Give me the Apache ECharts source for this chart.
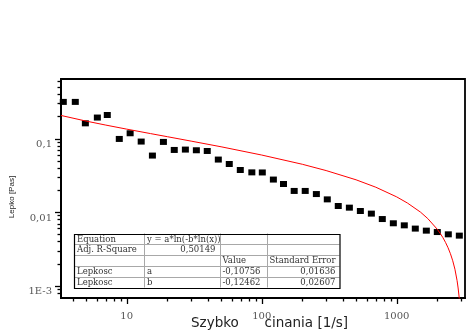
<!DOCTYPE html>
<html>
<head>
<meta charset="utf-8">
<script src="https://cdn.jsdelivr.net/npm/echarts@6/dist/echarts.min.js"></script>
<style>
html,body{margin:0;padding:0;background:#fff;}
#chart{width:467px;height:330px;}
</style>
</head>
<body>
<div id="chart"></div>
<script>
// ---- data ----
const shearRate = [3.39, 4.16, 4.94, 6.06, 7.18, 8.81, 10.6, 12.8, 15.5, 18.7, 22.5, 27.2, 32.8, 39.5, 47.7, 57.5, 69.4, 84.5, 101, 122, 145, 174, 210, 254, 306, 369, 446, 538, 649, 782, 944, 1138, 1373, 1657, 1998, 2411, 2909];
const viscosity = [0.315, 0.315, 0.161, 0.193, 0.209, 0.0988, 0.118, 0.091, 0.0587, 0.090, 0.070, 0.0708, 0.0693, 0.0678, 0.0518, 0.0451, 0.0374, 0.0347, 0.0346, 0.0277, 0.0241, 0.0194, 0.0194, 0.0176, 0.0149, 0.0121, 0.0115, 0.01035, 0.00954, 0.00805, 0.00705, 0.00661, 0.00597, 0.00560, 0.00536, 0.00499, 0.00479];
const fitX = [3.26, 5, 7, 10, 15, 20, 30, 50, 100, 200, 300, 500, 700, 1000, 1200, 1500, 1700, 2000, 2100, 2200, 2300, 2400, 2500, 2600, 2700, 2800, 2850, 2900, 2950];
const fitY = [0.206, 0.1728, 0.1524, 0.1343, 0.1168, 0.1060, 0.0923, 0.0773, 0.0597, 0.0447, 0.0367, 0.0275, 0.0218, 0.0161, 0.0133, 0.0100, 0.00816, 0.00583, 0.00514, 0.00449, 0.00387, 0.00328, 0.00272, 0.00218, 0.00167, 0.00117, 0.00093, 0.00070, 0.00047];

const xMin = 3.26, xMax = 3205;
const yMin = 0.00068, yMax = 0.645;

const xTickValues = [10, 100, 1000];
const xTickLabels = ['10', '100', '1000'];
const xMinorTicks = [4, 5, 6, 7, 8, 9, 20, 30, 40, 50, 60, 70, 80, 90, 200, 300, 400, 500, 600, 700, 800, 900, 2000, 3000];
const yTickValues = [0.001, 0.01, 0.1];
const yTickLabels = ['1E-3', '0,01', '0,1'];
const yMinorTicks = [0.0008, 0.0009, 0.002, 0.003, 0.004, 0.005, 0.006, 0.007, 0.008, 0.009, 0.02, 0.03, 0.04, 0.05, 0.06, 0.07, 0.08, 0.09, 0.2, 0.3, 0.4, 0.5, 0.6];

const xTitle = 'Szybko      cinania [1/s]';
const yTitle = 'Lepko [Pas]';

const tableRows = [
  ['Equation', 'y = a*ln(-b*ln(x))', '', ''],
  ['Adj. R-Square', '0,50149', '', ''],
  ['', '', 'Value', 'Standard Error'],
  ['Lepkosc', 'a', '-0,10756', '0,01636'],
  ['Lepkosc', 'b', '-0,12462', '0,02607']
];
const tableRightAligned = [[false, false, false, true], [false, true, false, true], [false, false, false, true], [false, false, false, true], [false, false, false, true]];

// ---- helpers ----
function matchLabel(values, labels, v) {
  for (let i = 0; i < values.length; i++) {
    if (Math.abs(Math.log10(values[i]) - Math.log10(v)) < 1e-6) return labels[i];
  }
  return '';
}

const chart = echarts.init(document.getElementById('chart'), null, {renderer: 'canvas'});

// table graphic
const colEdges = [74, 144, 219.5, 266.5, 339.5];
const tTop = 233.5, rowH = 10.8;
const tBottom = tTop + rowH * tableRows.length;
const tableEls = [];
tableEls.push({type: 'rect', shape: {x: colEdges[0], y: tTop, width: colEdges[4] - colEdges[0], height: tBottom - tTop}, style: {fill: '#fff'}});
for (let r = 1; r < tableRows.length; r++) {
  const y = Math.round(tTop + r * rowH) + 0.5;
  tableEls.push({type: 'line', shape: {x1: colEdges[0], y1: y, x2: colEdges[4], y2: y}, style: {stroke: '#a8a8a8', lineWidth: 1}});
}
for (let c = 1; c < colEdges.length - 1; c++) {
  const x = Math.round(colEdges[c]) + 0.5;
  tableEls.push({type: 'line', shape: {x1: x, y1: tTop, x2: x, y2: tBottom}, style: {stroke: '#a8a8a8', lineWidth: 1}});
}
tableEls.push({type: 'rect', shape: {x: colEdges[0] + 0.5, y: Math.round(tTop) + 0.5, width: colEdges[4] - colEdges[0], height: Math.round(tBottom - tTop)}, style: {fill: 'none', stroke: '#000', lineWidth: 1.2}});
tableRows.forEach((row, r) => {
  row.forEach((txt, c) => {
    if (!txt) return;
    const right = tableRightAligned[r][c];
    tableEls.push({
      type: 'text',
      style: {
        text: txt,
        x: right ? colEdges[c + 1] - 4 : colEdges[c] + 3,
        y: tTop + r * rowH + rowH / 2 + 0.5,
        align: right ? 'right' : 'left',
        verticalAlign: 'middle',
        fontFamily: 'DejaVu Serif',
        fontSize: 8.5,
        fill: '#333'
      }
    });
  });
});

const option = {
  animation: false,
  backgroundColor: '#fff',
  grid: {left: 61, top: 79, right: 2, bottom: 32, containLabel: false, outerBoundsMode: 'none', show: true, borderColor: '#000', borderWidth: 1.8, backgroundColor: 'transparent'},
  xAxis: {
    type: 'log', logBase: 10, min: xMin, max: xMax,
    axisLine: {show: true, lineStyle: {color: '#000', width: 2}},
    axisTick: {show: false},
    splitLine: {show: false},
    axisLabel: {
      margin: 13, fontFamily: 'DejaVu Serif', fontSize: 10, color: '#555',
      showMinLabel: false, showMaxLabel: false,
      formatter: v => matchLabel(xTickValues, xTickLabels, v)
    }
  },
  yAxis: {
    type: 'log', logBase: 10, min: yMin, max: yMax,
    axisLine: {show: true, lineStyle: {color: '#000', width: 2}},
    axisTick: {show: false},
    splitLine: {show: false},
    axisLabel: {
      margin: 9, fontFamily: 'DejaVu Serif', fontSize: 10, color: '#555',
      showMinLabel: false, showMaxLabel: false,
      verticalAlign: 'top',
      padding: [1, 0, 0, 0],
      formatter: v => matchLabel(yTickValues, yTickLabels, v)
    }
  },
  graphic: [
    {type: 'group', children: tableEls, z: 100},
    {type: 'text', x: 191, y: 323, z: 100,
      style: {text: xTitle, align: 'left', verticalAlign: 'middle', fontFamily: 'DejaVu Sans', fontSize: 13.5, fill: '#222'}},
    {type: 'text', x: 12, y: 197, rotation: Math.PI / 2, z: 100,
      style: {text: yTitle, align: 'center', verticalAlign: 'middle', fontFamily: 'Liberation Sans', fontSize: 8, fill: '#222'}}
  ],
  series: [
    {
      type: 'scatter', name: 'Lepkosc',
      data: shearRate.map((x, i) => [x, viscosity[i]]),
      symbol: 'rect', symbolSize: [7, 6],
      itemStyle: {color: '#000', opacity: 1},
      z: 3
    },
    {
      type: 'line', name: 'fit',
      data: fitX.map((x, i) => [x, fitY[i]]),
      showSymbol: false, symbol: 'none', smooth: false,
      lineStyle: {color: '#ff0000', width: 1},
      z: 4
    },
    {
      type: 'custom', name: 'xticks', clip: false, silent: true,
      data: xTickValues.map(v => [v, yMin, 6]).concat(xMinorTicks.map(v => [v, yMin, 3.5])),
      encode: {x: 0, y: 1},
      renderItem: (params, api) => {
        const p = api.coord([api.value(0), api.value(1)]);
        const len = api.value(2);
        const x = Math.round(p[0]) + 0.5;
        return {type: 'line', shape: {x1: x, y1: p[1], x2: x, y2: p[1] + len}, style: {stroke: '#000', lineWidth: 1.3}};
      },
      z: 5
    },
    {
      type: 'custom', name: 'yticks', clip: false, silent: true,
      data: yTickValues.map(v => [xMin, v, 6]).concat(yMinorTicks.map(v => [xMin, v, 3.5])),
      encode: {x: 0, y: 1},
      renderItem: (params, api) => {
        const p = api.coord([api.value(0), api.value(1)]);
        const len = api.value(2);
        const y = Math.round(p[1]) + 0.5;
        return {type: 'line', shape: {x1: p[0], y1: y, x2: p[0] - len, y2: y}, style: {stroke: '#000', lineWidth: 1.3}};
      },
      z: 5
    }
  ]
};
chart.setOption(option);
</script>
</body>
</html>
